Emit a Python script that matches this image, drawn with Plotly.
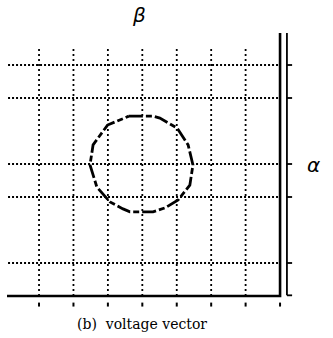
import plotly.graph_objects as go

# grid positions (data units)
grid_x = [1, 2, 3, 4, 5, 6, 7]
grid_y = [1, 3, 4, 6, 7]
bottom_ticks_x = [1, 2, 3, 4, 5, 6, 7, 8]

# traced locus of the voltage vector
locus_x = [3.61, 4.31, 4.51, 5.01, 5.33, 5.47, 5.38, 5.04, 4.66, 4.31, 3.64, 3.44, 3.06, 2.68, 2.48, 2.57, 2.99, 3.35, 3.61]
locus_y = [5.45, 5.45, 5.39, 5.09, 4.58, 3.97, 3.36, 2.91, 2.67, 2.55, 2.55, 2.64, 2.85, 3.30, 3.97, 4.58, 5.18, 5.33, 5.45]

axis_right_x = 8.0
axis2_x = 8.2
axis_top = 7.97
grid_top = 7.55
grid_left = 0.1

fig = go.Figure()

# vertical dotted grid
for gx in grid_x:
    fig.add_trace(go.Scatter(x=[gx, gx], y=[0, grid_top], mode="lines",
                             line=dict(color="black", width=1.8, dash="2px,3px"),
                             hoverinfo="skip", showlegend=False))
# horizontal dotted grid
for gy in grid_y:
    fig.add_trace(go.Scatter(x=[grid_left, axis_right_x], y=[gy, gy], mode="lines",
                             line=dict(color="black", width=1.8, dash="2px,2px"),
                             hoverinfo="skip", showlegend=False))

# locus
fig.add_trace(go.Scatter(x=locus_x, y=locus_y, mode="lines",
                         line=dict(color="black", width=2.8, dash="14px,3px,6px,3px"),
                         hoverinfo="skip", showlegend=False))

# axes lines
fig.add_trace(go.Scatter(x=[0.07, axis_right_x, axis_right_x], y=[0, 0, axis_top], mode="lines",
                         line=dict(color="black", width=2.6),
                         hoverinfo="skip", showlegend=False))
fig.add_trace(go.Scatter(x=[axis2_x, axis2_x], y=[0.02, axis_top], mode="lines",
                         line=dict(color="black", width=1.8),
                         hoverinfo="skip", showlegend=False))

# small ticks on second axis
for gy in grid_y + [0.02]:
    fig.add_trace(go.Scatter(x=[axis2_x, axis2_x + 0.15], y=[gy, gy], mode="lines",
                             line=dict(color="black", width=1.8),
                             hoverinfo="skip", showlegend=False))
# bottom ticks
for tx in bottom_ticks_x:
    fig.add_trace(go.Scatter(x=[tx, tx], y=[-0.2, -0.32], mode="lines",
                             line=dict(color="black", width=2),
                             hoverinfo="skip", showlegend=False))

fig.add_annotation(x=3.9, y=8.52, text="<i>β</i>", showarrow=False,
                   font=dict(family="DejaVu Sans", size=20, color="black"))
fig.add_annotation(x=8.96, y=3.97, text="<i>α</i>", showarrow=False,
                   font=dict(family="DejaVu Sans", size=20, color="black"))
fig.add_annotation(x=4.0, y=-0.85, text="(b)  voltage vector", showarrow=False,
                   font=dict(family="DejaVu Serif", size=14, color="black"))

fig.update_layout(
    width=333, height=338,
    margin=dict(l=0, r=0, t=0, b=0),
    paper_bgcolor="white", plot_bgcolor="white",
    xaxis=dict(range=[-0.1336, 9.538], visible=False, fixedrange=True),
    yaxis=dict(range=[-1.273, 8.970], visible=False, fixedrange=True),
)

fig.write_html("out.html", config={"displayModeBar": False},
               post_script="document.body.style.margin='0';document.body.style.overflow='hidden';")
